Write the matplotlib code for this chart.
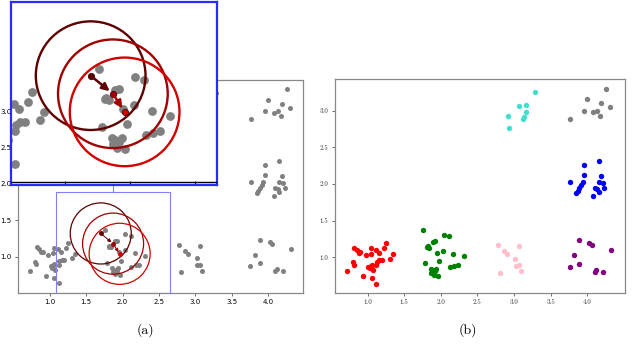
import matplotlib
matplotlib.use("Agg")
import numpy as np
import matplotlib.pyplot as plt
from matplotlib.patches import Circle, Rectangle

# cluster points
red_x = [0.72, 0.80, 0.81, 0.82, 0.85, 0.88, 0.90, 0.94, 0.98, 1.04, 1.05, 1.01, 1.03, 1.05,
         1.06, 1.07, 1.06, 1.12, 1.11, 1.15, 1.13, 1.16, 1.20, 1.22, 1.25, 1.31, 1.34, 1.12]
red_y = [0.81, 0.93, 0.90, 1.13, 1.10, 1.06, 1.07, 0.74, 1.03, 1.05, 1.12, 0.87, 0.85, 0.88,
         0.90, 0.82, 0.71, 0.64, 1.10, 1.06, 0.94, 0.96, 0.96, 1.12, 1.19, 0.98, 1.04, 0.89]

green_x = [1.76, 2.04, 2.11, 1.81, 1.84, 1.82, 1.89, 1.92, 1.95, 2.03, 2.17, 2.31, 1.79, 1.975,
           1.86, 1.885, 1.92, 1.94, 1.90, 1.96, 2.12, 2.18, 2.23, 1.87]
green_y = [1.37, 1.31, 1.29, 1.14, 1.13, 1.15, 1.21, 1.22, 1.06, 1.09, 1.05, 1.01, 0.92, 0.945,
           0.84, 0.82, 0.81, 0.84, 0.76, 0.75, 0.86, 0.88, 0.89, 0.79]

pink_x = [2.78, 2.86, 2.90, 3.07, 3.02, 2.81, 3.03, 3.07, 3.09]
pink_y = [1.16, 1.08, 1.04, 1.15, 0.98, 0.79, 0.88, 0.89, 0.81]

purple_x = [3.89, 4.03, 4.06, 4.32, 3.82, 3.76, 3.89, 4.12, 4.10, 4.21]
purple_y = [1.23, 1.20, 1.17, 1.105, 1.03, 0.87, 0.91, 0.83, 0.80, 0.80]

turq_x = [3.29, 3.07, 3.17, 2.92, 3.17, 3.14, 3.12, 2.93]
turq_y = [3.25, 3.06, 3.08, 2.93, 2.98, 2.92, 2.89, 2.76]

gray_x = [4.26, 4.00, 4.19, 4.31, 3.955, 4.08, 4.14, 4.18, 3.77]
gray_y = [3.30, 3.16, 3.105, 3.05, 3.00, 2.98, 3.00, 2.935, 2.89]

blue_x = [3.77, 3.955, 3.955, 3.94, 3.92, 3.89, 3.87, 3.85, 4.08, 4.105, 4.14, 4.16, 4.16,
          4.19, 4.21, 4.16, 4.23]
blue_y = [2.03, 2.26, 2.12, 2.03, 1.98, 1.95, 1.91, 1.88, 1.84, 1.94, 1.93, 1.895, 2.03,
          2.11, 2.02, 2.31, 1.95]

clusters = [(red_x, red_y, "red"), (green_x, green_y, "green"), (pink_x, pink_y, "pink"),
            (purple_x, purple_y, "purple"), (turq_x, turq_y, "turquoise"),
            (gray_x, gray_y, "gray"), (blue_x, blue_y, "blue")]

all_x = np.concatenate([c[0] for c in clusters])
all_y = np.concatenate([c[1] for c in clusters])

# mean-shift window: three successive centres
win_x = [1.70, 1.87, 1.96]
win_y = [1.32, 1.18, 1.04]
win_col = ["#5e0000", "#a00000", "#d40000"]
win_r = 0.42

ticks = [1.0, 1.5, 2.0, 2.5, 3.0, 3.5, 4.0]
yticks = [1.0, 1.5, 2.0, 2.5, 3.0]

fig = plt.figure(figsize=(6.4, 3.57), dpi=100)

# ---- (a) ----
ax1 = fig.add_axes([0.028, 0.179, 0.445, 0.597])
ax1.scatter(all_x, all_y, s=13, color="gray", linewidths=0, zorder=2)
for i in range(3):
    ax1.add_patch(Circle((win_x[i], win_y[i]), win_r, fill=False, ec=win_col[i], lw=0.9, zorder=3))
    ax1.plot(win_x[i], win_y[i], "o", ms=2.5, color=win_col[i], zorder=4)
for i in range(2):
    ax1.annotate("", xy=(win_x[i+1], win_y[i+1]), xytext=(win_x[i], win_y[i]),
                 arrowprops=dict(arrowstyle="-|>", color=win_col[i], lw=0.7,
                                 mutation_scale=5, shrinkA=1, shrinkB=1.5), zorder=4)
ax1.add_patch(Rectangle((1.09, 0.5), 1.57, 1.386, fill=False, ec="#8080ff", lw=0.8, zorder=5))
ax1.plot([1.875, 1.875], [1.886, 2.1], color="#8080ff", lw=0.8, zorder=5)
ax1.set_xlim(0.56, 4.48)
ax1.set_ylim(0.5, 3.43)
ax1.set_xticks(ticks)
ax1.set_yticks(yticks)
ax1.tick_params(labelsize=5, length=2.5, width=0.6, pad=2, color="#555555")
for sp in ax1.spines.values():
    sp.set_color("#888888")
    sp.set_linewidth(0.9)

# inset with the zoomed window
axin = fig.add_axes([11 / 640, 1 - 185 / 357, 205.7 / 640, 183.3 / 357])
axin.set_zorder(10)
axin.set_facecolor("white")
axin.scatter(all_x, all_y, s=40, color="gray", linewidths=0, zorder=2)
for i in range(3):
    axin.add_patch(Circle((win_x[i], win_y[i]), win_r, fill=False, ec=win_col[i], lw=1.7, zorder=3))
    axin.plot(win_x[i], win_y[i], "o", ms=4.5, color=win_col[i], mec="#4a0000", mew=0.6, zorder=4)
for i in range(2):
    axin.annotate("", xy=(win_x[i+1], win_y[i+1]), xytext=(win_x[i], win_y[i]),
                  arrowprops=dict(arrowstyle="-|>", color=win_col[i], lw=1.8,
                                  mutation_scale=11, shrinkA=2, shrinkB=3), zorder=4)
axin.axhline(0.5, color="black", lw=1.0, zorder=5)
axin.set_xlim(1.09, 2.665)
axin.set_ylim(0.4745, 1.892)
axin.set_xticks([1.5, 2.0, 2.5])
axin.set_yticks([])
axin.tick_params(axis="x", direction="in", length=3, width=0.8, color="black", labelbottom=False)
for sp in axin.spines.values():
    sp.set_color("#2b2bff")
    sp.set_linewidth(1.6)

# ---- (b) ----
ax2 = fig.add_axes([0.523, 0.179, 0.454, 0.599])
for cx, cy, col in clusters:
    ax2.scatter(cx, cy, s=15, color=col, linewidths=0)
ax2.set_xlim(0.55, 4.52)
ax2.set_ylim(0.51, 3.43)
ax2.set_xticks(ticks)
ax2.set_yticks(yticks)
ax2.tick_params(labelsize=5, length=2.5, width=0.6, pad=2, color="#555555")
for lab in ax2.get_xticklabels() + ax2.get_yticklabels():
    lab.set_fontfamily("cmr10")
    lab.set_color("#333333")
for sp in ax2.spines.values():
    sp.set_color("#888888")
    sp.set_linewidth(0.9)

fig.text(0.228, 0.076, "(a)", ha="center", va="center", fontsize=10, family="cmr10")
fig.text(0.731, 0.076, "(b)", ha="center", va="center", fontsize=10, family="cmr10")

fig.savefig("out.png", dpi=100)
